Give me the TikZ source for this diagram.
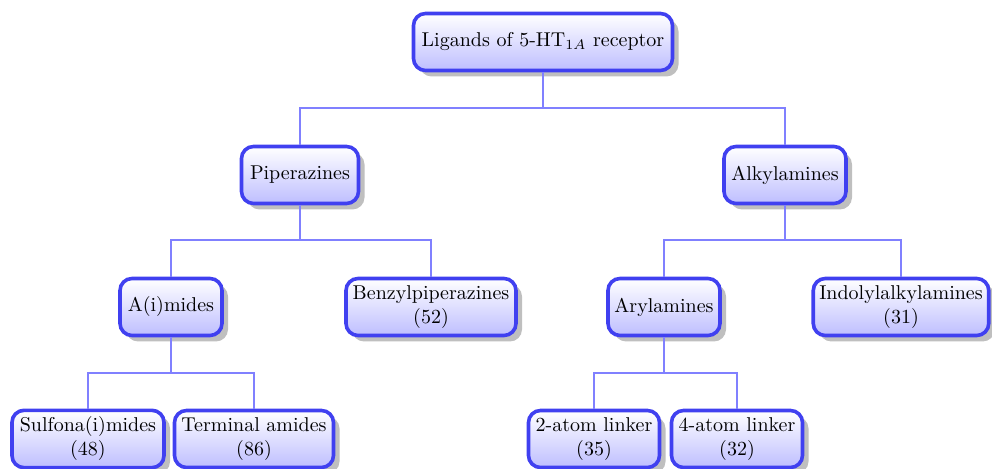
\documentclass[tikz,border=0pt]{standalone}
\usetikzlibrary{shadows}
\definecolor{boxborder}{RGB}{64,64,240}
\definecolor{boxbottom}{RGB}{190,190,255}
\definecolor{linkcol}{RGB}{128,128,255}
\begin{document}
\begin{tikzpicture}[x=0.5pt,y=-0.5pt,
 box/.style={draw=boxborder, line width=1.8pt, rounded corners=6pt, top color=white, bottom color=boxbottom, minimum height=28.5pt, align=center, inner xsep=3pt, font=\normalsize, drop shadow={shadow xshift=3pt, shadow yshift=-3pt, fill=black!25, opacity=1}},
 link/.style={draw=linkcol, line width=0.8pt}]
\useasboundingbox (0,0) rectangle (992,469);
\node[box, minimum width=129.5pt] (root) at (543,42) {Ligands of 5-HT$_{1A}$ receptor};
\node[box, minimum width=58.5pt] (pip) at (300,175) {Piperazines};
\node[box, minimum width=61pt] (alk) at (785,175) {Alkylamines};
\node[box, minimum width=51pt] (ami) at (171,307) {A(i)mides};
\node[box, minimum width=85pt] (ben) at (431,307) {Benzylpiperazines\\(52)};
\node[box, minimum width=56pt] (ary) at (664,307) {Arylamines};
\node[box, minimum width=87pt] (ind) at (901,307) {Indolylalkylamines\\(31)};
\node[box, minimum width=76pt] (sul) at (88,439) {Sulfona(i)mides\\(48)};
\node[box, minimum width=79.5pt] (ter) at (254,439) {Terminal amides\\(86)};
\node[box, minimum width=65.5pt] (two) at (594,439) {2-atom linker\\(35)};
\node[box, minimum width=65.5pt] (four) at (737,439) {4-atom linker\\(32)};
\coordinate (j0) at (543,108);
\coordinate (j1) at (300,240);
\coordinate (j2) at (785,240);
\coordinate (j3) at (171,373);
\coordinate (j4) at (664,373);
\draw[link] (root.south) -- (j0) -| (pip.north);
\draw[link] (j0) -| (alk.north);
\draw[link] (pip.south) -- (j1) -| (ami.north);
\draw[link] (j1) -| (ben.north);
\draw[link] (alk.south) -- (j2) -| (ary.north);
\draw[link] (j2) -| (ind.north);
\draw[link] (ami.south) -- (j3) -| (sul.north);
\draw[link] (j3) -| (ter.north);
\draw[link] (ary.south) -- (j4) -| (two.north);
\draw[link] (j4) -| (four.north);
\end{tikzpicture}
\end{document}
